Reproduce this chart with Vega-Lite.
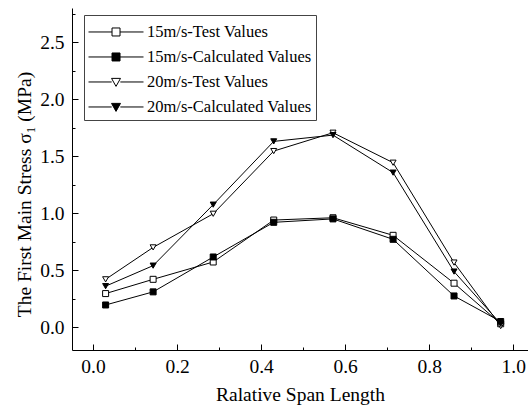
{
  "$schema": "https://vega.github.io/schema/vega-lite/v6.json",
  "autosize": "none",
  "padding": {"left": 72, "top": 8, "right": 0, "bottom": 63},
  "width": 456,
  "height": 342,
  "background": "white",
  "config": {
    "view": {"stroke": null},
    "font": "Liberation Serif",
    "axis": {
      "labelFont": "Liberation Serif",
      "titleFont": "Liberation Serif",
      "labelFontSize": 19.5,
      "titleFontSize": 19.5,
      "titleFontWeight": "normal",
      "labelColor": "black",
      "titleColor": "black",
      "domainColor": "black",
      "tickColor": "black",
      "grid": false
    }
  },
  "data": {
    "values": [
      {"x": 0.03, "y": 0.295, "series": "15m/s-Test Values"},
      {"x": 0.143, "y": 0.42, "series": "15m/s-Test Values"},
      {"x": 0.286, "y": 0.572, "series": "15m/s-Test Values"},
      {"x": 0.43, "y": 0.94, "series": "15m/s-Test Values"},
      {"x": 0.571, "y": 0.96, "series": "15m/s-Test Values"},
      {"x": 0.714, "y": 0.806, "series": "15m/s-Test Values"},
      {"x": 0.859, "y": 0.386, "series": "15m/s-Test Values"},
      {"x": 0.97, "y": 0.03, "series": "15m/s-Test Values"},
      {"x": 0.03, "y": 0.195, "series": "15m/s-Calculated Values"},
      {"x": 0.143, "y": 0.31, "series": "15m/s-Calculated Values"},
      {"x": 0.286, "y": 0.616, "series": "15m/s-Calculated Values"},
      {"x": 0.43, "y": 0.92, "series": "15m/s-Calculated Values"},
      {"x": 0.571, "y": 0.95, "series": "15m/s-Calculated Values"},
      {"x": 0.714, "y": 0.771, "series": "15m/s-Calculated Values"},
      {"x": 0.859, "y": 0.274, "series": "15m/s-Calculated Values"},
      {"x": 0.97, "y": 0.05, "series": "15m/s-Calculated Values"},
      {"x": 0.03, "y": 0.42, "series": "20m/s-Test Values"},
      {"x": 0.143, "y": 0.70, "series": "20m/s-Test Values"},
      {"x": 0.286, "y": 0.995, "series": "20m/s-Test Values"},
      {"x": 0.43, "y": 1.545, "series": "20m/s-Test Values"},
      {"x": 0.571, "y": 1.706, "series": "20m/s-Test Values"},
      {"x": 0.714, "y": 1.443, "series": "20m/s-Test Values"},
      {"x": 0.859, "y": 0.567, "series": "20m/s-Test Values"},
      {"x": 0.97, "y": 0.01, "series": "20m/s-Test Values"},
      {"x": 0.03, "y": 0.36, "series": "20m/s-Calculated Values"},
      {"x": 0.143, "y": 0.54, "series": "20m/s-Calculated Values"},
      {"x": 0.286, "y": 1.075, "series": "20m/s-Calculated Values"},
      {"x": 0.43, "y": 1.63, "series": "20m/s-Calculated Values"},
      {"x": 0.571, "y": 1.685, "series": "20m/s-Calculated Values"},
      {"x": 0.714, "y": 1.356, "series": "20m/s-Calculated Values"},
      {"x": 0.859, "y": 0.488, "series": "20m/s-Calculated Values"},
      {"x": 0.97, "y": 0.03, "series": "20m/s-Calculated Values"}
    ]
  },
  "encoding": {
    "x": {
      "field": "x", "type": "quantitative",
      "scale": {"domain": [-0.05, 1.035], "nice": false, "zero": false},
      "axis": {
        "title": "Ralative Span Length",
        "values": [0, 0.1, 0.2, 0.3, 0.4, 0.5, 0.6, 0.7, 0.8, 0.9, 1.0],
        "labelExpr": "round(datum.value*10)%2==0 ? format(datum.value,'.1f') : ''",
        "tickSize": {"condition": {"test": "round(datum.value*10)%2==0", "value": -6}, "value": -3},
        "labelPadding": 13,
        "titlePadding": 10,
        "labelFlush": false
      }
    },
    "y": {
      "field": "y", "type": "quantitative",
      "scale": {"domain": [-0.2, 2.8], "nice": false, "zero": false},
      "axis": {
        "title": "The First Main Stress σ₁ (MPa)",
        "values": [0, 0.25, 0.5, 0.75, 1.0, 1.25, 1.5, 1.75, 2.0, 2.25, 2.5, 2.75],
        "labelExpr": "round(datum.value*4)%2==0 ? format(datum.value,'.1f') : ''",
        "tickSize": {"condition": {"test": "round(datum.value*4)%2==0", "value": -6}, "value": -3},
        "labelPadding": 14,
        "titlePadding": 5,
        "titleY": 186,
        "labelFlush": false
      }
    }
  },
  "layer": [
    {
      "mark": {"type": "line", "stroke": "black", "strokeWidth": 1},
      "encoding": {"detail": {"field": "series"}}
    },
    {
      "mark": {"type": "point", "filled": true, "stroke": "black", "strokeWidth": 1, "size": 36, "opacity": 1},
      "encoding": {
        "shape": {
          "field": "series", "type": "nominal",
          "scale": {"domain": ["15m/s-Test Values", "15m/s-Calculated Values", "20m/s-Test Values", "20m/s-Calculated Values"],
                    "range": ["square", "square", "triangle-down", "triangle-down"]},
          "legend": null
        },
        "fill": {
          "field": "series", "type": "nominal",
          "scale": {"domain": ["15m/s-Test Values", "15m/s-Calculated Values", "20m/s-Test Values", "20m/s-Calculated Values"],
                    "range": ["white", "black", "white", "black"]},
          "legend": null
        }
      }
    },
    {
      "mark": {"type": "point", "filled": true, "stroke": "black", "strokeWidth": 1, "size": 256, "opacity": 0},
      "encoding": {
        "shape": {
          "field": "series", "type": "nominal",
          "scale": {"domain": ["15m/s-Test Values", "15m/s-Calculated Values", "20m/s-Test Values", "20m/s-Calculated Values"],
                    "range": [
                      "M-1,0.56H1.94M2.94,0.56H5.875M1.94,0.06H2.94V1.06H1.94Z",
                      "M-1,0.56H1.94M2.94,0.56H5.875M1.94,0.06H2.94V1.06H1.94Z",
                      "M-1,0.56H1.9M2.98,0.56H5.875M1.88,0.11H3.0L2.44,1.11Z",
                      "M-1,0.56H1.9M2.98,0.56H5.875M1.88,0.11H3.0L2.44,1.11Z"
                    ]},
          "legend": {
            "title": null,
            "orient": "none",
            "legendX": 12,
            "legendY": 7,
            "padding": 4,
            "strokeColor": "#444",
            "fillColor": "white",
            "labelFont": "Liberation Serif",
            "labelFontSize": 16.5,
            "labelColor": "black",
            "labelOffset": 42,
            "rowPadding": 3,
            "labelLimit": 400,
            "symbolSize": 256,
            "symbolStrokeWidth": 1,
            "symbolStrokeColor": "black",
            "symbolOpacity": 1,
            "encode": {
              "symbols": {"update": {"opacity": {"value": 1}, "stroke": {"value": "black"}, "strokeWidth": {"value": 1}, "size": {"value": 256}}},
              "labels": {"update": {"dy": {"value": 4.5}}}
            }
          }
        },
        "fill": {
          "field": "series", "type": "nominal",
          "scale": {"domain": ["15m/s-Test Values", "15m/s-Calculated Values", "20m/s-Test Values", "20m/s-Calculated Values"],
                    "range": ["white", "black", "white", "black"]},
          "legend": {
            "title": null,
            "orient": "none",
            "legendX": 12,
            "legendY": 7,
            "padding": 4,
            "strokeColor": "#444",
            "fillColor": "white",
            "labelFont": "Liberation Serif",
            "labelFontSize": 16.5,
            "labelColor": "black",
            "labelOffset": 42,
            "rowPadding": 3,
            "labelLimit": 400,
            "symbolSize": 256,
            "symbolStrokeWidth": 1,
            "symbolStrokeColor": "black",
            "symbolOpacity": 1,
            "encode": {
              "symbols": {"update": {"opacity": {"value": 1}, "stroke": {"value": "black"}, "strokeWidth": {"value": 1}, "size": {"value": 256}}},
              "labels": {"update": {"dy": {"value": 4.5}}}
            }
          }
        }
      }
    }
  ],
  "resolve": {"scale": {"shape": "independent", "fill": "independent"}}
}
